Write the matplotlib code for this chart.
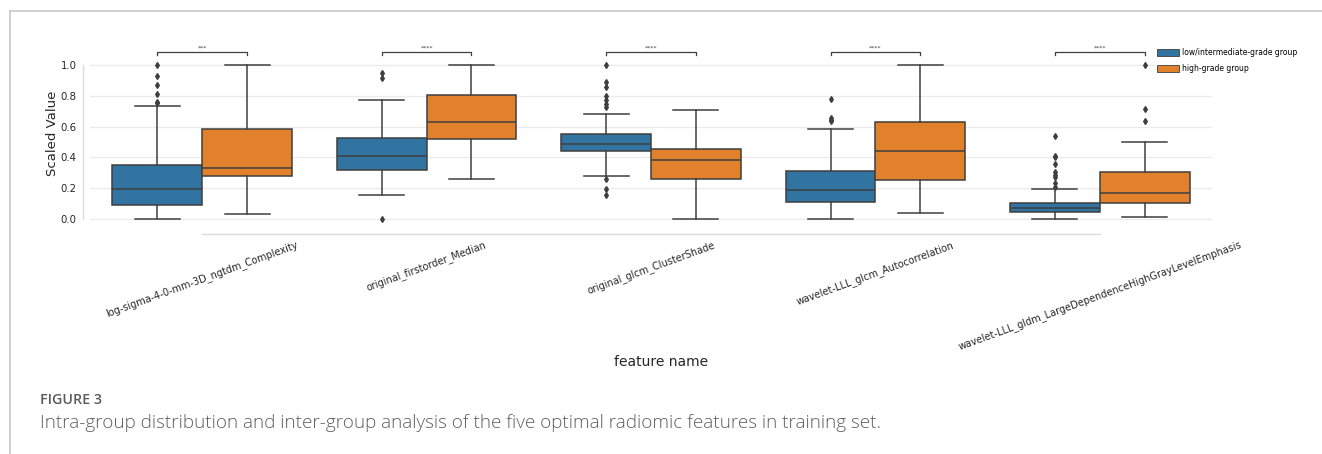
import matplotlib
matplotlib.use("Agg")
import matplotlib.pyplot as plt
from matplotlib.patches import Patch
from matplotlib.lines import Line2D

# ---- data -------------------------------------------------------------
features = [
    "log-sigma-4-0-mm-3D_ngtdm_Complexity",
    "original_firstorder_Median",
    "original_glcm_ClusterShade",
    "wavelet-LLL_glcm_Autocorrelation",
    "wavelet-LLL_gldm_LargeDependenceHighGrayLevelEmphasis",
]
groups = ["low/intermediate-grade group", "high-grade group"]
significance = ["***", "****", "****", "****", "****"]

# low/intermediate-grade group box statistics (scaled values)
low_whislo = [0.000, 0.156, 0.281, 0.000, 0.000]
low_q1 = [0.090, 0.320, 0.444, 0.110, 0.045]
low_med = [0.195, 0.407, 0.485, 0.187, 0.069]
low_q3 = [0.350, 0.528, 0.552, 0.314, 0.106]
low_whishi = [0.735, 0.775, 0.680, 0.583, 0.193]
low_fliers = [
    [1.00, 0.93, 0.87, 0.81, 0.76, 0.755],
    [0.95, 0.914, 0.00],
    [1.00, 0.89, 0.86, 0.80, 0.77, 0.747, 0.73, 0.26, 0.195, 0.156],
    [0.78, 0.656, 0.643, 0.634],
    [0.54, 0.41, 0.40, 0.355, 0.307, 0.286, 0.27, 0.236, 0.21],
]

# high-grade group box statistics (scaled values)
high_whislo = [0.030, 0.258, 0.000, 0.037, 0.013]
high_q1 = [0.277, 0.517, 0.258, 0.255, 0.104]
high_med = [0.330, 0.632, 0.383, 0.440, 0.171]
high_q3 = [0.586, 0.805, 0.455, 0.630, 0.307]
high_whishi = [1.000, 1.000, 0.706, 1.000, 0.502]
high_fliers = [[], [], [], [], [1.00, 0.714, 0.634]]

# ---- style --------------------------------------------------------------
W, H = 1322, 454
BLUE = "#3274a1"
ORANGE = "#e1812c"
GRAY = "#3f3f3f"
TEXT = "#262626"

fig = plt.figure(figsize=(W / 100, H / 100), dpi=100)
ax = fig.add_axes([90 / W, 1 - 226.7 / H, (1212 - 90) / W, 169.4 / H])


def make_stats(whislo, q1, med, q3, whishi, fliers):
    return [dict(whislo=a, q1=b, med=c, q3=d, whishi=e, fliers=f)
            for a, b, c, d, e, f in zip(whislo, q1, med, q3, whishi, fliers)]


series = [
    (make_stats(low_whislo, low_q1, low_med, low_q3, low_whishi, low_fliers), -0.2, BLUE),
    (make_stats(high_whislo, high_q1, high_med, high_q3, high_whishi, high_fliers), 0.2, ORANGE),
]

line_kw = dict(color=GRAY, linewidth=1.1)
for stats, shift, color in series:
    ax.bxp(
        stats,
        positions=[i + shift for i in range(len(features))],
        widths=0.4,
        capwidths=0.2,
        patch_artist=True,
        boxprops=dict(facecolor=color, edgecolor=GRAY, linewidth=1.1),
        whiskerprops=line_kw,
        capprops=line_kw,
        medianprops=line_kw,
        flierprops=dict(marker="d", markerfacecolor=GRAY, markeredgecolor=GRAY,
                        markersize=3, linestyle="none"),
        manage_ticks=False,
        zorder=3,
    )

# ---- axes ---------------------------------------------------------------
ax.set_xlim(-0.5, len(features) - 0.5)
ax.set_ylim(-0.05, 1.05)
ax.set_yticks([0.0, 0.2, 0.4, 0.6, 0.8, 1.0])
ax.set_yticklabels([f"{v:.1f}" for v in [0.0, 0.2, 0.4, 0.6, 0.8, 1.0]])
ax.set_xticks(range(len(features)))
ax.set_xticklabels(features)
ax.tick_params(axis="both", length=0, colors=TEXT)
ax.tick_params(axis="y", labelsize=7.3, pad=4.5)
ax.tick_params(axis="x", labelsize=7, labelrotation=20, pad=4)

ax.yaxis.grid(True, color="#ebebeb", linewidth=1.0, zorder=0)
ax.xaxis.grid(False)
ax.set_axisbelow(True)

for side in ("top", "right"):
    ax.spines[side].set_visible(False)
for side in ("left", "bottom"):
    ax.spines[side].set_color("#dcdcdc")
    ax.spines[side].set_linewidth(1.0)
    ax.spines[side].set_position(("outward", 5))
ax.spines["left"].set_bounds(0, 1)
ax.spines["bottom"].set_bounds(0, len(features) - 1)

ax.set_ylabel("Scaled Value", fontsize=9.5, color=TEXT)
ax.yaxis.set_label_coords(59 / W, 1 - 133 / H, transform=fig.transFigure)
ax.set_xlabel("feature name", fontsize=10, color=TEXT)
ax.xaxis.set_label_coords(0.5, 1 - 355 / H, transform=fig.transFigure)

# significance brackets above each pair
for i, mark in enumerate(significance):
    x0, x1 = i - 0.2, i + 0.2
    ax.plot([x0, x0, x1, x1], [1.065, 1.086, 1.086, 1.065], color=GRAY,
            linewidth=0.9, clip_on=False)
    ax.text(i, 1.095, mark, ha="center", va="bottom", fontsize=4.5,
            color=GRAY, clip_on=False)

handles = [Patch(facecolor=BLUE, edgecolor=GRAY, linewidth=0.6),
           Patch(facecolor=ORANGE, edgecolor=GRAY, linewidth=0.6)]
ax.legend(handles, groups, loc="upper left",
          bbox_to_anchor=(1155 / W, 1 - 46 / H), bbox_transform=fig.transFigure,
          fontsize=5.5, handlelength=2.8, handleheight=0.9, labelspacing=0.9,
          handletextpad=0.4, borderpad=0.3, borderaxespad=0,
          frameon=True, facecolor="white", edgecolor="none", framealpha=1)

# ---- page frame and caption -------------------------------------------
fig.add_artist(Line2D([9.5 / W, 1], [1 - 10.5 / H, 1 - 10.5 / H],
                      transform=fig.transFigure, color="#c8c8c8", linewidth=1.2))
fig.add_artist(Line2D([9.5 / W, 9.5 / W], [0, 1 - 10.5 / H],
                      transform=fig.transFigure, color="#c8c8c8", linewidth=1.2))

fig.text(40 / W, 1 - 400 / H, "FIGURE 3", ha="left", va="center",
         fontsize=10.3, color="#5a5a5a", family=["Open Sans", "DejaVu Sans"],
         fontweight="semibold")
fig.text(40 / W, 1 - 423 / H,
         "Intra-group distribution and inter-group analysis of the five optimal "
         "radiomic features in training set.",
         ha="left", va="center", fontsize=13.6, color="#5f5f5f",
         family=["Open Sans", "DejaVu Sans"], fontweight="light")

# centre the rotated feature names under their ticks
for lbl in ax.get_xticklabels():
    lbl.set_horizontalalignment("center")

fig.savefig("out.png", dpi=100, facecolor="white")
